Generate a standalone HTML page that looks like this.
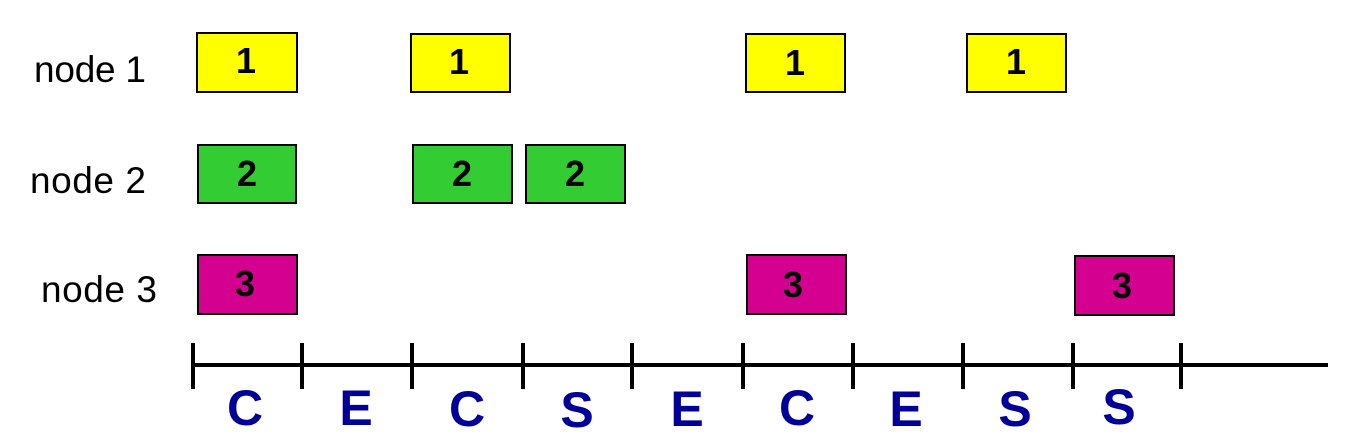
<!DOCTYPE html>
<html><head><style>html,body{margin:0;padding:0;background:#fff}</style></head><body>
<svg width="1347" height="442" xmlns="http://www.w3.org/2000/svg" style="display:block">
<g font-family="Liberation Sans, Arial, sans-serif" font-size="37" fill="#000">
<text x="34" y="82" textLength="112">node 1</text>
<text x="30" y="193" textLength="116">node 2</text>
<text x="41" y="302" textLength="116">node 3</text>
</g>
<g stroke="#000" stroke-width="2">
<rect x="197" y="33" width="100" height="59" fill="#ffff00"/>
<rect x="411" y="34" width="99" height="58" fill="#ffff00"/>
<rect x="746" y="34" width="99" height="58" fill="#ffff00"/>
<rect x="967" y="34" width="99" height="58" fill="#ffff00"/>
<rect x="198" y="145" width="98" height="58" fill="#33cc33"/>
<rect x="413" y="145" width="99" height="58" fill="#33cc33"/>
<rect x="526" y="145" width="99" height="58" fill="#33cc33"/>
<rect x="198" y="255" width="99" height="59" fill="#d4008f"/>
<rect x="747" y="255" width="99" height="59" fill="#d4008f"/>
<rect x="1075" y="256" width="99" height="59" fill="#d4008f"/>
</g>
<g font-family="Liberation Sans, Arial, sans-serif" font-size="36" font-weight="bold" text-anchor="middle" fill="#000">
<text x="246" y="73">1</text>
<text x="459" y="74">1</text>
<text x="795" y="75">1</text>
<text x="1016" y="74">1</text>
<text x="247" y="186">2</text>
<text x="462" y="186">2</text>
<text x="575" y="186">2</text>
<text x="245" y="296">3</text>
<text x="793" y="297">3</text>
<text x="1122" y="298">3</text>
</g>
<g stroke="#000" stroke-width="4">
<line x1="191" y1="365" x2="1328" y2="365"/>
<line x1="193" y1="343" x2="193" y2="389"/>
<line x1="302" y1="343" x2="302" y2="389"/>
<line x1="412" y1="343" x2="412" y2="389"/>
<line x1="523" y1="343" x2="523" y2="389"/>
<line x1="632" y1="343" x2="632" y2="389"/>
<line x1="743" y1="343" x2="743" y2="389"/>
<line x1="853" y1="343" x2="853" y2="389"/>
<line x1="963" y1="343" x2="963" y2="389"/>
<line x1="1073" y1="343" x2="1073" y2="389"/>
<line x1="1181" y1="343" x2="1181" y2="389"/>
</g>
<g font-family="Liberation Sans, Arial, sans-serif" font-size="50" font-weight="bold" text-anchor="middle" fill="#000099">
<text x="245" y="425">C</text>
<text x="356" y="425">E</text>
<text x="467" y="426">C</text>
<text x="577" y="427">S</text>
<text x="687" y="426">E</text>
<text x="797" y="425">C</text>
<text x="906" y="426">E</text>
<text x="1015" y="426">S</text>
<text x="1119" y="424">S</text>
</g>
</svg>
</body></html>
